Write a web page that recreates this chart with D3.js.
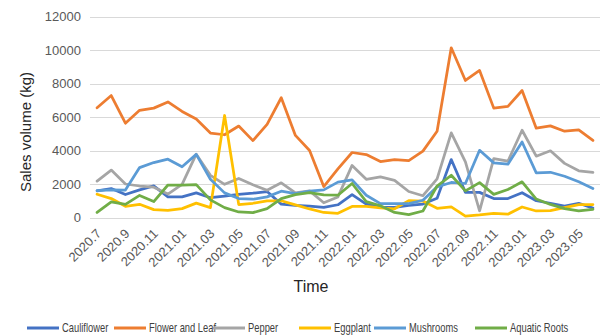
<!DOCTYPE html>
<html>
<head>
<meta charset="utf-8">
<script src="https://cdn.jsdelivr.net/npm/d3@7"></script>
<style>
  html, body { margin: 0; padding: 0; background: #fff; }
  svg { display: block; }
</style>
</head>
<body>
<svg id="chart" width="601" height="336"></svg>
<script>
// Monthly categories, July 2020 to June 2023
const months = [
  "2020.7","2020.8","2020.9","2020.10","2020.11","2020.12",
  "2021.01","2021.02","2021.03","2021.04","2021.05","2021.06",
  "2021.07","2021.08","2021.09","2021.10","2021.11","2021.12",
  "2022.01","2022.02","2022.03","2022.04","2022.05","2022.06",
  "2022.07","2022.08","2022.09","2022.10","2022.11","2022.12",
  "2023.01","2023.02","2023.03","2023.04","2023.05","2023.06"
];

// Sales volume (kg) per category
const cauliflower = [1590,1730,1370,1650,1890,1230,1230,1470,1180,1280,1380,1450,1550,800,720,680,600,760,1370,800,620,600,720,800,1150,3460,1500,1500,1130,1130,1480,1000,850,680,850,560];
const flowerAndLeaf = [6550,7280,5630,6400,6530,6900,6330,5880,5040,4940,5460,4590,5560,7150,4900,4000,1850,2900,3880,3760,3340,3460,3400,3960,5150,10130,8180,8780,6530,6630,7580,5330,5470,5150,5230,4600];
const pepper = [2170,2830,2000,1880,1810,1400,1980,3780,2520,1980,2330,1950,1630,2070,1470,1590,880,1230,3110,2280,2430,2220,1550,1300,2310,5050,3320,400,3520,3360,5210,3660,3980,3230,2790,2690];
const eggplant = [1390,1130,670,790,470,430,530,860,590,6090,770,850,990,1000,750,510,300,250,660,660,580,520,1010,980,550,630,80,150,250,200,630,390,410,590,770,770];
const mushrooms = [1600,1650,1640,2980,3280,3480,3030,3770,2280,1470,1130,1090,1230,1570,1430,1570,1650,2110,2250,1330,830,830,830,1030,1830,2090,2030,4010,3260,3180,4510,2660,2700,2460,2130,1730];
const aquaticRoots = [300,930,780,1320,950,1940,1940,1960,1050,590,330,290,530,1130,1370,1490,1350,1330,2030,950,700,300,170,390,1880,2520,1590,2080,1380,1670,2130,1100,780,530,390,490];

const seriesNames = ["Cauliflower","Flower and Leaf","Pepper","Eggplant","Mushrooms","Aquatic Roots"];
const seriesValues = [cauliflower, flowerAndLeaf, pepper, eggplant, mushrooms, aquaticRoots];
const seriesColors = ["#4472C4","#ED7D31","#A5A5A5","#FFC000","#5B9BD5","#70AD47"];

const yTicks = [0,2000,4000,6000,8000,10000,12000];
const xTickLabels = months.filter((d, i) => i % 2 === 0);

const svg = d3.select("#chart");
const plot = { left: 90, right: 600, top: 16.5, bottom: 217.5 };

const x = d3.scaleBand().domain(months).range([plot.left, plot.right]).padding(0);
const xc = d => x(d) + x.bandwidth() / 2;
const y = d3.scaleLinear().domain([0, 12000]).range([plot.bottom, plot.top]);

const font = "'Liberation Sans', Arial, sans-serif";

// Horizontal gridlines
svg.append("g")
  .selectAll("line")
  .data(yTicks)
  .join("line")
  .attr("x1", plot.left)
  .attr("x2", plot.right)
  .attr("y1", d => Math.round(y(d)) + 0.5)
  .attr("y2", d => Math.round(y(d)) + 0.5)
  .attr("stroke", "#D9D9D9")
  .attr("stroke-width", 1);

// Y axis labels
const yAxis = svg.append("g")
  .attr("transform", `translate(${plot.left - 9},0)`)
  .call(d3.axisLeft(y).tickValues(yTicks).tickSize(0).tickPadding(0).tickFormat(d3.format("d")));
yAxis.select(".domain").remove();
yAxis.selectAll("text")
  .attr("font-family", font)
  .attr("font-size", 13)
  .attr("fill", "#595959");

// X axis labels, rotated
const xAxis = svg.append("g")
  .attr("transform", `translate(0,${plot.bottom})`)
  .call(d3.axisBottom(x).tickValues(xTickLabels).tickSize(0).tickPadding(0));
xAxis.select(".domain").remove();
xAxis.selectAll(".tick text")
  .attr("font-family", font)
  .attr("font-size", 13)
  .attr("fill", "#595959")
  .attr("text-anchor", "end")
  .attr("dy", 0)
  .attr("y", 0)
  .attr("transform", "translate(5,17) rotate(-45)");

// Series lines
const line = d3.line()
  .x((d, i) => xc(months[i]))
  .y(d => y(d));

svg.append("g")
  .selectAll("path")
  .data(seriesValues)
  .join("path")
  .attr("d", d => line(d))
  .attr("fill", "none")
  .attr("stroke", (d, i) => seriesColors[i])
  .attr("stroke-width", 2.75)
  .attr("stroke-linejoin", "round")
  .attr("stroke-linecap", "round");

// Axis titles
svg.append("text")
  .attr("transform", "translate(31,132) rotate(-90)")
  .attr("text-anchor", "middle")
  .attr("font-family", font)
  .attr("font-size", 15)
  .attr("fill", "#262626")
  .text("Sales volume (kg)");

svg.append("text")
  .attr("x", 311)
  .attr("y", 292)
  .attr("text-anchor", "middle")
  .attr("font-family", font)
  .attr("font-size", 16)
  .attr("fill", "#262626")
  .text("Time");

// Legend (condensed labels)
const legendX = [27, 114, 213, 299, 374, 475];
const legendY = 328;
const legend = svg.append("g")
  .selectAll("g")
  .data(seriesNames)
  .join("g")
  .attr("transform", (d, i) => `translate(${legendX[i]},${legendY})`);

legend.append("line")
  .attr("x1", 0).attr("x2", 32)
  .attr("y1", 0).attr("y2", 0)
  .attr("stroke", (d, i) => seriesColors[i])
  .attr("stroke-width", 3);

legend.append("text")
  .attr("transform", "translate(35,0) scale(0.78,1)")
  .attr("dy", "0.35em")
  .attr("font-family", font)
  .attr("font-size", 12)
  .attr("fill", "#404040")
  .text(d => d);
</script>
</body>
</html>
